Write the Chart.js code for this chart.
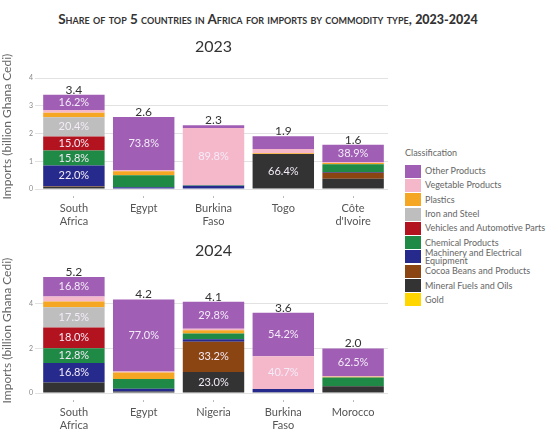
<!DOCTYPE html>
<html>
<head>
<meta charset="utf-8">
<script src="https://cdn.jsdelivr.net/npm/chart.js@4.4.1/dist/chart.umd.min.js"></script>
<style>
  body { margin: 0; width: 558px; height: 435px; position: relative; background: #fff; font-family: Lato, sans-serif; overflow: hidden; }
  #title { position: absolute; top: 11px; left: -22px; width: 580px; text-align: center; color: #333; font-size: 13.5px; font-weight: bold; font-variant: small-caps; white-space: nowrap; }
  #title b { font-variant: normal; font-size: 12.5px; }
  .box { position: absolute; left: 0; width: 398px; }
  #legend { position: absolute; left: 405px; top: 147px; width: 152px; color: #666; font-size: 9px; }
  #legend .head { margin-bottom: 6px; }
  #legend .item { display: flex; align-items: center; height: 14.3px; }
  #legend .sw { width: 16px; height: 13px; flex: none; margin-right: 4px; }
  #legend .txt { line-height: 8px; }
</style>
</head>
<body>
<div id="title">Share of top 5 countries in Africa for imports by commodity type, <b>2023-2024</b></div>
<div class="box" style="top:33px;height:200px"><canvas id="chart2023"></canvas></div>
<div class="box" style="top:237px;height:200px"><canvas id="chart2024"></canvas></div>
<div id="legend"></div>
<script>
// commodity classes, listed top of stack first (legend order)
const commodities = ["Other Products", "Vegetable Products", "Plastics", "Iron and Steel",
  "Vehicles and Automotive Parts", "Chemical Products", "Machinery and Electrical Equipment",
  "Cocoa Beans and Products", "Mineral Fuels and Oils", "Gold"];
const colors = ["#A05EB5", "#F5B8CB", "#F5A623", "#BEBEBE", "#B3121F",
  "#1F8A45", "#262A8C", "#8B4513", "#333333", "#FFD600"];

// 2023 (billion Ghana Cedi totals, % shares)
const countries2023 = [["South", "Africa"], "Egypt", ["Burkina", "Faso"], "Togo", ["Côte", "d'Ivoire"]];
const totals2023 = [3.4, 2.6, 2.3, 1.9, 1.6];
const other2023 = [16.2, 73.8, 4.5, 24.0, 38.9];
const veg2023 = [3.0, 1.5, 89.8, 8.0, 2.5];
const plastics2023 = [4.6, 5.8, 0, 1.6, 3.0];
const iron2023 = [20.4, 0, 0, 0, 0];
const vehicles2023 = [15.0, 0, 0, 0, 0];
const chemical2023 = [15.8, 16.4, 0.7, 0, 17.5];
const machinery2023 = [22.0, 2.5, 5.0, 0, 1.5];
const cocoa2023 = [0.5, 0, 0, 0, 13.5];
const mineral2023 = [2.5, 0, 0, 66.4, 23.1];
const gold2023 = [0, 0, 0, 0, 0];

// 2024
const countries2024 = [["South", "Africa"], "Egypt", "Nigeria", ["Burkina", "Faso"], "Morocco"];
const totals2024 = [5.2, 4.2, 4.1, 3.6, 2.0];
const other2024 = [16.8, 77.0, 29.8, 54.2, 62.5];
const veg2024 = [4.2, 1.0, 1.5, 40.7, 1.0];
const plastics2024 = [4.9, 7.0, 3.5, 0, 1.5];
const iron2024 = [17.5, 0, 0, 0, 0];
const vehicles2024 = [18.0, 0, 0, 0, 0];
const chemical2024 = [12.8, 10.5, 6.5, 0, 20.0];
const machinery2024 = [16.8, 3.0, 2.5, 4.3, 0];
const cocoa2024 = [0, 0, 33.2, 0, 0];
const mineral2024 = [9.0, 1.5, 23.0, 0.8, 15.0];
const gold2024 = [0, 0, 0, 0, 0];

const shares2023 = [other2023, veg2023, plastics2023, iron2023, vehicles2023,
  chemical2023, machinery2023, cocoa2023, mineral2023, gold2023];
const shares2024 = [other2024, veg2024, plastics2024, iron2024, vehicles2024,
  chemical2024, machinery2024, cocoa2024, mineral2024, gold2024];

Chart.defaults.font.family = "Lato, sans-serif";

const segLabels = {
  id: "segLabels",
  afterDatasetsDraw(chart, args, opts) {
    const ctx = chart.ctx;
    ctx.save();
    ctx.textAlign = "center";
    ctx.textBaseline = "middle";
    ctx.font = "11px Lato, sans-serif";
    chart.data.datasets.forEach((ds, di) => {
      chart.getDatasetMeta(di).data.forEach((bar, j) => {
        if (ds.data[j] >= 0.5) {
          ctx.fillStyle = "#f3ebf7";
          ctx.fillText(ds.share[j].toFixed(1) + "%", bar.x, (bar.y + bar.base) / 2);
        }
      });
    });
    const y = chart.scales.y;
    const meta = chart.getDatasetMeta(0);
    ctx.font = "12px Lato, sans-serif";
    ctx.textBaseline = "bottom";
    ctx.fillStyle = "#333";
    opts.totals.forEach((t, j) => {
      ctx.fillText(t.toFixed(1), meta.data[j].x, y.getPixelForValue(t) + 1);
    });
    ctx.restore();
  }
};

function makeChart(id, year, labels, totals, shares, max, step) {
  const datasets = commodities.map((name, i) => ({
    label: name,
    share: shares[i],
    data: shares[i].map((s, j) => s * totals[j] / 100),
    backgroundColor: colors[i],
    borderWidth: 0,
    categoryPercentage: 1,
    barPercentage: 0.88
  })).reverse();

  return new Chart(document.getElementById(id), {
    type: "bar",
    data: { labels: labels, datasets: datasets },
    plugins: [segLabels],
    options: {
      responsive: true,
      maintainAspectRatio: false,
      animation: false,
      layout: { padding: { right: 10 } },
      plugins: {
        legend: { display: false },
        tooltip: { enabled: false },
        title: { display: true, text: year, fullSize: false, color: "#333",
          font: { size: 16, weight: "normal" }, padding: { top: 4, bottom: 8 } },
        segLabels: { totals: totals }
      },
      scales: {
        x: {
          stacked: true,
          afterFit: (s) => { s.height = 44; },
          border: { display: false },
          grid: { drawOnChartArea: false, offset: false, tickLength: 10, color: "#bbb",
            tickBorderDash: [0, 7, 2, 10] },
          ticks: { color: "#555", font: { size: 11 }, padding: 3, maxRotation: 0 }
        },
        y: {
          stacked: true,
          min: 0,
          max: max,
          afterFit: (s) => { s.width = 39; },
          border: { display: false },
          grid: { color: "#e2e2e2", tickLength: 4 },
          ticks: { stepSize: step, includeBounds: false, color: "#888", font: { size: 7 }, padding: 2 },
          title: { display: true, text: "Imports (billion Ghana Cedi)", color: "#666",
            font: { size: 12 }, padding: 0 }
        }
      }
    }
  });
}

makeChart("chart2023", "2023", countries2023, totals2023, shares2023, 4.5, 1);
makeChart("chart2024", "2024", countries2024, totals2024, shares2024, 5.6, 2);

// legend
const legend = document.getElementById("legend");
legend.innerHTML = '<div class="head">Classification</div>' + commodities.map((c, i) =>
  `<div class="item"><span class="sw" style="background:${colors[i]}"></span><span class="txt">${c}</span></div>`
).join("");
</script>
</body>
</html>
